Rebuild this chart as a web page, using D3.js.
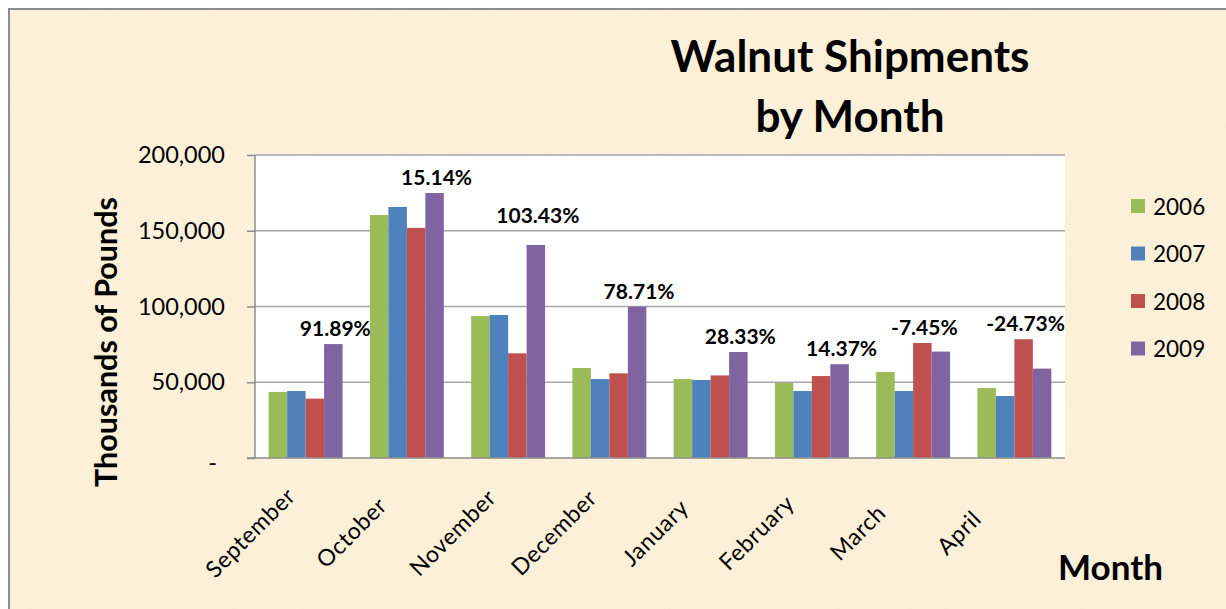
<!DOCTYPE html>
<html>
<head>
<meta charset="utf-8">
<script src="https://cdn.jsdelivr.net/npm/d3@7"></script>
<style>
  html, body { margin: 0; padding: 0; background: #fff; }
  svg { display: block; font-family: Lato, "Open Sans", sans-serif; }
</style>
</head>
<body>
<div id="chart"></div>
<script>
(function () {
  'use strict';

  // data (thousands of pounds)
  var months = ["September", "October", "November", "December", "January", "February", "March", "April"];
  var years = ["2006", "2007", "2008", "2009"];
  var s2006 = [43600, 160400, 93700, 59400, 52100, 49500, 56800, 46200];
  var s2007 = [44200, 165700, 94400, 52100, 51500, 44200, 44200, 40900];
  var s2008 = [39200, 151900, 69100, 55900, 54500, 54100, 75900, 78400];
  var s2009 = [75200, 174900, 140600, 99900, 69950, 61900, 70250, 59000];
  var pctLabels = ["91.89%", "15.14%", "103.43%", "78.71%", "28.33%", "14.37%", "-7.45%", "-24.73%"];
  var yTicks = [0, 50000, 100000, 150000, 200000];

  var colors = {
    "2006": "#9BBB59",
    "2007": "#4F81BD",
    "2008": "#C0504D",
    "2009": "#8064A2"
  };

  var series = [s2006, s2007, s2008, s2009];
  var rows = months.map(function (m, i) {
    var r = {month: m, label: pctLabels[i]};
    years.forEach(function (y, j) { r[y] = series[j][i]; });
    return r;
  });

  var W = 1226, H = 609;
  var plot = {left: 255, right: 1065, top: 155, bottom: 458};

  var svg = d3.select("#chart").append("svg")
    .attr("width", W)
    .attr("height", H);

  // parchment background
  var defs = svg.append("defs");
  var f = defs.append("filter").attr("id", "paper")
    .attr("x", 0).attr("y", 0).attr("width", "100%").attr("height", "100%");
  f.append("feTurbulence")
    .attr("type", "fractalNoise")
    .attr("baseFrequency", "0.018 0.03")
    .attr("numOctaves", 3)
    .attr("seed", 7)
    .attr("result", "noise");
  f.append("feColorMatrix")
    .attr("in", "noise")
    .attr("type", "matrix")
    .attr("values", "0 0 0 0 0.93  0 0 0 0 0.86  0 0 0 0 0.66  1.2 0 0 0 -0.52");

  svg.append("rect")
    .attr("x", 8).attr("y", 8)
    .attr("width", W - 8).attr("height", H - 8)
    .attr("fill", "#FCF0D9");
  svg.append("rect")
    .attr("x", 8).attr("y", 8)
    .attr("width", W - 8).attr("height", H - 8)
    .attr("fill", "#fff")
    .attr("filter", "url(#paper)")
    .attr("opacity", 0.6);
  svg.append("path")
    .attr("d", "M9," + H + "V9H" + W)
    .attr("fill", "none")
    .attr("stroke", "#8c8c8c")
    .attr("stroke-width", 2);

  // scales
  var x0 = d3.scaleBand()
    .domain(months)
    .range([plot.left, plot.right])
    .paddingInner(0.27)
    .paddingOuter(0.135);
  var x1 = d3.scaleBand()
    .domain(years)
    .range([0, x0.bandwidth()]);
  var y = d3.scaleLinear()
    .domain([0, 200000])
    .range([plot.bottom, plot.top]);

  // plot area
  svg.append("rect")
    .attr("x", plot.left).attr("y", plot.top)
    .attr("width", plot.right - plot.left)
    .attr("height", plot.bottom - plot.top)
    .attr("fill", "#fff");

  svg.append("g").selectAll("line")
    .data(yTicks.slice(1))
    .enter().append("line")
    .attr("x1", plot.left).attr("x2", plot.right)
    .attr("y1", function (d) { return y(d); })
    .attr("y2", function (d) { return y(d); })
    .attr("stroke", "#a6a6a6")
    .attr("stroke-width", 1.5);

  // y axis
  var yAxis = d3.axisLeft(y)
    .tickValues(yTicks)
    .tickSize(8)
    .tickPadding(22)
    .tickFormat(function (d) { return d === 0 ? "-" : d3.format(",")(d); });
  var gy = svg.append("g")
    .attr("transform", "translate(" + plot.left + ",0)")
    .call(yAxis);
  gy.select(".domain").attr("stroke", "#8c8c8c").attr("stroke-width", 1.5)
    .attr("d", "M0," + plot.top + "V" + plot.bottom);
  gy.selectAll(".tick line").attr("stroke", "#8c8c8c").attr("stroke-width", 1.5);
  gy.selectAll(".tick text")
    .attr("fill", "#000")
    .style("font-family", "Lato, sans-serif")
    .style("font-size", "23.5px");
  gy.selectAll(".tick text").filter(function (d) { return d === 0; })
    .attr("dx", -8).attr("dy", "0.55em");

  // bars
  var groups = svg.append("g").selectAll("g")
    .data(rows)
    .enter().append("g")
    .attr("transform", function (d) { return "translate(" + x0(d.month) + ",0)"; });

  groups.selectAll("rect")
    .data(function (d) { return years.map(function (yr) { return {year: yr, value: d[yr]}; }); })
    .enter().append("rect")
    .attr("x", function (d) { return x1(d.year); })
    .attr("y", function (d) { return y(d.value); })
    .attr("width", x1.bandwidth())
    .attr("height", function (d) { return plot.bottom - y(d.value); })
    .attr("fill", function (d) { return colors[d.year]; });

  // x axis line
  svg.append("line")
    .attr("x1", plot.left - 8).attr("x2", plot.right)
    .attr("y1", plot.bottom).attr("y2", plot.bottom)
    .attr("stroke", "#8c8c8c")
    .attr("stroke-width", 1.5);

  // percent change labels, over the taller of 2008 / 2009
  var nudge = {November: -14};
  groups.append("text")
    .attr("x", function (d) {
      var yr = d["2009"] >= d["2008"] ? "2009" : "2008";
      return x1(yr) + x1.bandwidth() / 2 + 2;
    })
    .attr("y", function (d) {
      return y(Math.max(d["2008"], d["2009"])) - 8 + (nudge[d.month] || 0);
    })
    .attr("text-anchor", "middle")
    .style("font-size", "21px")
    .style("font-weight", "bold")
    .text(function (d) { return d.label; });

  // month labels
  svg.append("g").selectAll("text")
    .data(months)
    .enter().append("text")
    .attr("transform", function (d) {
      return "translate(" + (x0(d) + x0.bandwidth() / 2 - 56) + ",532) rotate(-45)";
    })
    .attr("text-anchor", "middle")
    .attr("dominant-baseline", "central")
    .style("font-size", "23px")
    .style("letter-spacing", "0.6px")
    .text(function (d) { return d; });

  // titles
  var title = svg.append("text")
    .attr("text-anchor", "middle")
    .style("font-size", "44px")
    .style("font-weight", "bold");
  title.append("tspan").attr("x", 850).attr("y", 72).text("Walnut Shipments");
  title.append("tspan").attr("x", 850).attr("y", 132).text("by Month");

  svg.append("text")
    .attr("transform", "translate(117,342) rotate(-90)")
    .attr("text-anchor", "middle")
    .style("font-size", "30.5px")
    .style("font-weight", "bold")
    .text("Thousands of Pounds");

  svg.append("text")
    .attr("x", 1058).attr("y", 580)
    .style("font-size", "35px")
    .style("font-weight", "bold")
    .text("Month");

  // legend
  var legend = svg.append("g").selectAll("g")
    .data(years)
    .enter().append("g")
    .attr("transform", function (d, i) { return "translate(1131," + (206 + i * 47.5) + ")"; });
  legend.append("rect")
    .attr("x", 0).attr("y", -7)
    .attr("width", 14).attr("height", 14)
    .attr("fill", function (d) { return colors[d]; });
  legend.append("text")
    .attr("x", 22).attr("y", 0)
    .attr("dominant-baseline", "central")
    .style("font-size", "22.5px")
    .text(function (d) { return d; });
})();
</script>
</body>
</html>
